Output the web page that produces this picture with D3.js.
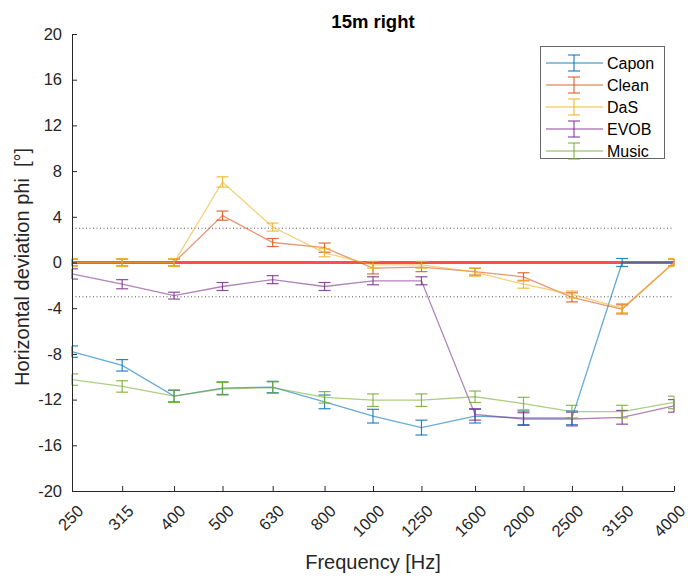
<!DOCTYPE html>
<html>
<head>
<meta charset="utf-8">
<script src="https://cdn.jsdelivr.net/npm/d3@7"></script>
<style>
  body { margin: 0; background: #fff; }
  svg { font-family: "Liberation Sans", Arial, sans-serif; }
</style>
</head>
<body>
<svg id="chart" width="688" height="580"></svg>
<script>
// Frequencies (Hz) and tick labels
const freqs = [250, 315, 400, 500, 630, 800, 1000, 1250, 1600, 2000, 2500, 3150, 4000];
const yTicks = [-20, -16, -12, -8, -4, 0, 4, 8, 12, 16, 20];

// Series means and error half-widths
const caponVals  = [-7.8, -9.0, -11.7, -11.0, -10.9, -12.2, -13.45, -14.45, -13.45, -13.6, -13.6, 0, 0];
const caponErr   = [0.5, 0.5, 0.5, 0.55, 0.5, 0.6, 0.6, 0.65, 0.6, 0.6, 0.6, 0.35, 0];
const cleanVals  = [0, 0, 0, 4.1, 1.75, 1.3, -0.5, -0.4, -0.8, -1.25, -3.05, -4.1, 0];
const cleanErr   = [0.3, 0.3, 0.3, 0.4, 0.35, 0.4, 0.5, 0.4, 0.3, 0.35, 0.4, 0.4, 0.3];
const dasVals    = [0, 0, 0, 7.05, 3.1, 0.85, -0.2, -0.2, -0.85, -1.9, -2.8, -4.0, 0];
const dasErr     = [0.35, 0.35, 0.35, 0.45, 0.35, 0.35, 0.3, 0.3, 0.35, 0.35, 0.3, 0.4, 0.35];
const evobVals   = [-1.0, -1.9, -2.9, -2.1, -1.5, -2.1, -1.6, -1.6, -13.3, -13.7, -13.7, -13.55, -12.55];
const evobErr    = [0.45, 0.4, 0.3, 0.35, 0.35, 0.35, 0.35, 0.35, 0.5, 0.55, 0.6, 0.6, 0.55];
const musicVals  = [-10.25, -10.85, -11.7, -11.05, -10.95, -11.8, -12.05, -12.05, -11.75, -12.35, -13.05, -13.05, -12.25];
const musicErr   = [0.5, 0.5, 0.55, 0.55, 0.5, 0.5, 0.55, 0.55, 0.5, 0.55, 0.55, 0.55, 0.55];

const seriesNames  = ["Capon", "Clean", "DaS", "EVOB", "Music"];
const seriesColors = ["#0072BD", "#D95319", "#EDB120", "#7E2F8E", "#77AC30"];
const seriesVals   = [caponVals, cleanVals, dasVals, evobVals, musicVals];
const seriesErr    = [caponErr, cleanErr, dasErr, evobErr, musicErr];

// Reference lines
const zeroLine = 0;
const tolLines = [3, -3];

const svg = d3.select("#chart");
const margin = {left: 72, right: 14, top: 34, bottom: 89};
const width = 688, height = 580;
const axisColor = "#262626";

const x = d3.scaleLog()
    .domain([250, 4000])
    .range([margin.left, width - margin.right]);
const y = d3.scaleLinear()
    .domain([-20, 20])
    .range([height - margin.bottom, margin.top]);

// Title
svg.append("text")
    .attr("x", (x.range()[0] + x.range()[1]) / 2)
    .attr("y", 28)
    .attr("text-anchor", "middle")
    .style("font-size", "18.5px")
    .style("font-weight", "bold")
    .attr("fill", "#000")
    .text("15m right");

// Dotted tolerance lines
svg.append("g")
    .selectAll("line")
    .data(tolLines)
    .enter()
    .append("line")
    .attr("x1", x(250))
    .attr("x2", x(4000))
    .attr("y1", d => y(d))
    .attr("y2", d => y(d))
    .attr("stroke", "#555")
    .attr("stroke-width", 1)
    .attr("stroke-dasharray", "1,2.5");

// Red zero line
svg.append("line")
    .attr("x1", x(250))
    .attr("x2", x(4000))
    .attr("y1", y(zeroLine))
    .attr("y2", y(zeroLine))
    .attr("stroke", "#ff2020")
    .attr("stroke-opacity", 0.8)
    .attr("stroke-width", 3);

// Series lines and error bars
const lineGen = d3.line()
    .x(d => x(d.f))
    .y(d => y(d.v));
const capW = 6;

seriesNames.forEach((name, i) => {
    const pts = freqs.map((f, j) => ({f: f, v: seriesVals[i][j], e: seriesErr[i][j]}));
    const g = svg.append("g");

    g.append("path")
        .datum(pts)
        .attr("d", lineGen)
        .attr("fill", "none")
        .attr("stroke", seriesColors[i])
        .attr("stroke-opacity", 0.6)
        .attr("stroke-width", 1.3);

    const bars = g.selectAll("g.bar")
        .data(pts.filter(d => d.e > 0))
        .enter()
        .append("g")
        .attr("stroke", seriesColors[i])
        .attr("stroke-opacity", 0.85)
        .attr("stroke-width", 1.2);

    bars.append("line")
        .attr("x1", d => x(d.f)).attr("x2", d => x(d.f))
        .attr("y1", d => y(d.v + d.e)).attr("y2", d => y(d.v - d.e));
    bars.append("line")
        .attr("x1", d => Math.max(x(d.f) - capW, margin.left)).attr("x2", d => Math.min(x(d.f) + capW, width - margin.right))
        .attr("y1", d => y(d.v + d.e)).attr("y2", d => y(d.v + d.e));
    bars.append("line")
        .attr("x1", d => Math.max(x(d.f) - capW, margin.left)).attr("x2", d => Math.min(x(d.f) + capW, width - margin.right))
        .attr("y1", d => y(d.v - d.e)).attr("y2", d => y(d.v - d.e));
});

// Y axis (hyphen minus like the original)
const yAxis = svg.append("g")
    .attr("transform", `translate(${margin.left},0)`)
    .call(d3.axisLeft(y).tickValues(yTicks).tickFormat(d => String(d))
        .tickSizeInner(-5).tickSizeOuter(0).tickPadding(10));
yAxis.select(".domain").attr("stroke", axisColor);
yAxis.selectAll(".tick line").attr("stroke", axisColor);
yAxis.selectAll(".tick text")
    .attr("fill", axisColor)
    .style("font-size", "16.5px")
    .style("font-family", "Liberation Sans, Arial, sans-serif");

// X axis
const xAxis = svg.append("g")
    .attr("transform", `translate(0,${height - margin.bottom})`)
    .call(d3.axisBottom(x).tickValues(freqs).tickFormat(d3.format("d")).tickSizeInner(-5).tickSizeOuter(0));
xAxis.select(".domain").attr("stroke", axisColor);
xAxis.selectAll(".tick line").attr("stroke", axisColor);
xAxis.selectAll(".tick text")
    .attr("fill", axisColor)
    .style("font-size", "16.5px")
    .style("font-family", "Liberation Sans, Arial, sans-serif")
    .attr("text-anchor", "end")
    .attr("x", 0)
    .attr("y", 0)
    .attr("dy", 0)
    .attr("transform", "translate(12,21) rotate(-45)");

// Axis labels
svg.append("text")
    .attr("x", (x.range()[0] + x.range()[1]) / 2)
    .attr("y", 569)
    .attr("text-anchor", "middle")
    .attr("fill", axisColor)
    .style("font-size", "20px")
    .text("Frequency [Hz]");

svg.append("text")
    .attr("transform", "translate(29,267) rotate(-90)")
    .attr("text-anchor", "middle")
    .attr("fill", axisColor)
    .style("font-size", "20px")
    .style("white-space", "pre")
    .text("Horizontal deviation phi  [°]");

// Legend
const legend = svg.append("g");
legend.append("rect")
    .attr("x", 540.5).attr("y", 46.5)
    .attr("width", 124).attr("height", 112)
    .attr("fill", "#fff")
    .attr("stroke", "#262626")
    .attr("stroke-opacity", 0.7)
    .attr("stroke-width", 1);

seriesNames.forEach((name, i) => {
    const ly = 63 + i * 22;
    const item = legend.append("g");
    item.append("line")
        .attr("x1", 546).attr("x2", 603)
        .attr("y1", ly).attr("y2", ly)
        .attr("stroke", seriesColors[i])
        .attr("stroke-opacity", 0.6)
        .attr("stroke-width", 1.3);
    const eg = item.append("g")
        .attr("stroke", seriesColors[i])
        .attr("stroke-opacity", 0.85)
        .attr("stroke-width", 1.2);
    eg.append("line").attr("x1", 574).attr("x2", 574).attr("y1", ly - 8).attr("y2", ly + 8);
    eg.append("line").attr("x1", 568).attr("x2", 580).attr("y1", ly - 8).attr("y2", ly - 8);
    eg.append("line").attr("x1", 568).attr("x2", 580).attr("y1", ly + 8).attr("y2", ly + 8);
    item.append("text")
        .attr("x", 607).attr("y", ly + 5.5)
        .attr("fill", "#000")
        .style("font-size", "16px")
        .text(name);
});
</script>
</body>
</html>
